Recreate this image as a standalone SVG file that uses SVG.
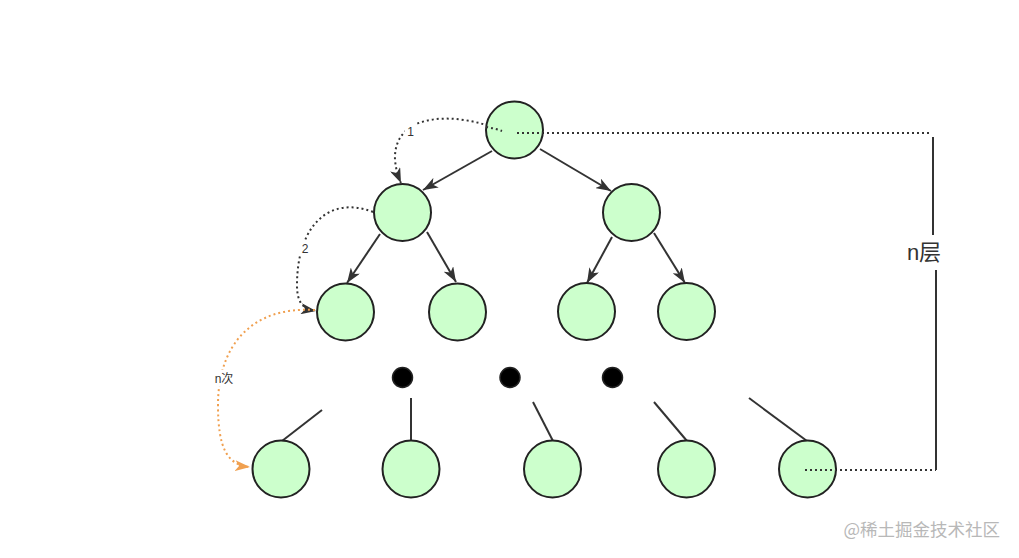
<svg xmlns="http://www.w3.org/2000/svg" width="1019" height="558" viewBox="0 0 1019 558">
<style>
.node{fill:#ccffcc;stroke:#222;stroke-width:2}
.dot{fill:#000;stroke:#222;stroke-width:1.5}
.edge{stroke:#333;stroke-width:2;fill:none}
.dotted{stroke:#333;stroke-width:2;fill:none;stroke-dasharray:2 3}
.orange{stroke:#f0a050;stroke-width:2;fill:none;stroke-dasharray:2 3}
.lbl{font-family:"Liberation Sans","Noto Sans CJK SC",sans-serif;fill:#333}
</style>
<defs>
<marker id="arr" viewBox="0 0 15 11" refX="15" refY="5.5" markerWidth="15" markerHeight="11" markerUnits="userSpaceOnUse" orient="auto">
<path d="M0,0 L15,5.5 L0,11 L4,5.5 Z" fill="#333"/>
</marker>
<marker id="arrO" viewBox="0 0 15 11" refX="15" refY="5.5" markerWidth="15" markerHeight="11" markerUnits="userSpaceOnUse" orient="auto">
<path d="M0,0 L15,5.5 L0,11 L4,5.5 Z" fill="#f0a050"/>
</marker>
</defs>
<rect width="1019" height="558" fill="#fff"/>
<g id="connectors">
<line class="edge" x1="492" y1="151" x2="423" y2="190" marker-end="url(#arr)"/>
<line class="edge" x1="540" y1="149" x2="611" y2="191" marker-end="url(#arr)"/>
<line class="edge" x1="380" y1="234" x2="347" y2="283" marker-end="url(#arr)"/>
<line class="edge" x1="427" y1="232" x2="456" y2="282" marker-end="url(#arr)"/>
<line class="edge" x1="612" y1="237" x2="587" y2="283" marker-end="url(#arr)"/>
<line class="edge" x1="654" y1="233" x2="685" y2="283" marker-end="url(#arr)"/>
<line class="edge" x1="282" y1="441" x2="322" y2="410"/>
<line class="edge" x1="411" y1="441" x2="411" y2="398"/>
<line class="edge" x1="553" y1="441" x2="533" y2="402"/>
<line class="edge" x1="687" y1="441" x2="654" y2="402"/>
<line class="edge" x1="807" y1="441" x2="749" y2="398"/>
<path class="dotted" d="M502,131 C460,112 393,110 395,160 C396,170 398,176 401,183" marker-end="url(#arr)"/>
<path class="dotted" d="M373,212 C330,195 297,225 297,285 C297,303 303,309 316,311" marker-end="url(#arr)"/>
<path class="orange" d="M315,310 C252,306 218,345 218,405 C218,450 228,465 250,467" marker-end="url(#arrO)"/>
<line class="dotted" x1="517" y1="133" x2="931" y2="133"/>
<line class="edge" x1="933" y1="137" x2="933" y2="235"/>
<line class="edge" x1="936" y1="270" x2="936" y2="470"/>
<line class="dotted" x1="805" y1="470" x2="936" y2="470"/>
</g>
<g id="labels">
<rect x="405" y="123" width="11" height="14" fill="#fff"/>
<text class="lbl" x="410.5" y="136" font-size="12" text-anchor="middle">1</text>
<rect x="299" y="240" width="12" height="15" fill="#fff"/>
<text class="lbl" x="305" y="253" font-size="12" text-anchor="middle">2</text>
<rect x="211" y="370" width="26" height="16" fill="#fff"/>
<text class="lbl" x="224" y="383" font-size="12" text-anchor="middle">n次</text>
<text class="lbl" x="924" y="260" font-size="22" text-anchor="middle">n层</text>
</g>
<g id="n-root"><circle class="node" cx="514.5" cy="130" r="28.5"/></g>
<g id="n-l1a"><circle class="node" cx="402.5" cy="212.5" r="28.5"/></g>
<g id="n-l1b"><circle class="node" cx="631.5" cy="212.5" r="28.5"/></g>
<g id="n-l2a"><circle class="node" cx="345.5" cy="312" r="28.5"/></g>
<g id="n-l2b"><circle class="node" cx="457.5" cy="312" r="28.5"/></g>
<g id="n-l2c"><circle class="node" cx="586.5" cy="311.5" r="28.5"/></g>
<g id="n-l2d"><circle class="node" cx="686.5" cy="311.5" r="28.5"/></g>
<g id="dot-1"><circle class="dot" cx="402.5" cy="377.5" r="10"/></g>
<g id="dot-2"><circle class="dot" cx="510" cy="377.5" r="10"/></g>
<g id="dot-3"><circle class="dot" cx="612.5" cy="377.5" r="10"/></g>
<g id="n-b1"><circle class="node" cx="281" cy="469" r="28.5"/></g>
<g id="n-b2"><circle class="node" cx="411" cy="469" r="28.5"/></g>
<g id="n-b3"><circle class="node" cx="552.5" cy="469" r="28.5"/></g>
<g id="n-b4"><circle class="node" cx="686.5" cy="469" r="28.5"/></g>
<g id="n-b5"><circle class="node" cx="807.5" cy="469" r="28.5"/></g>
<g id="overlay">
<path class="dotted" d="M486,127 C492,128 497,129 502,131"/>
<line class="dotted" x1="517" y1="133" x2="543" y2="133"/>
<line class="dotted" x1="805" y1="470" x2="836" y2="470"/>
</g>
<text x="1000" y="536" font-size="17.5" text-anchor="end" font-family="'Noto Sans CJK SC',sans-serif" fill="#b8b8b8">@稀土掘金技术社区</text>
</svg>
